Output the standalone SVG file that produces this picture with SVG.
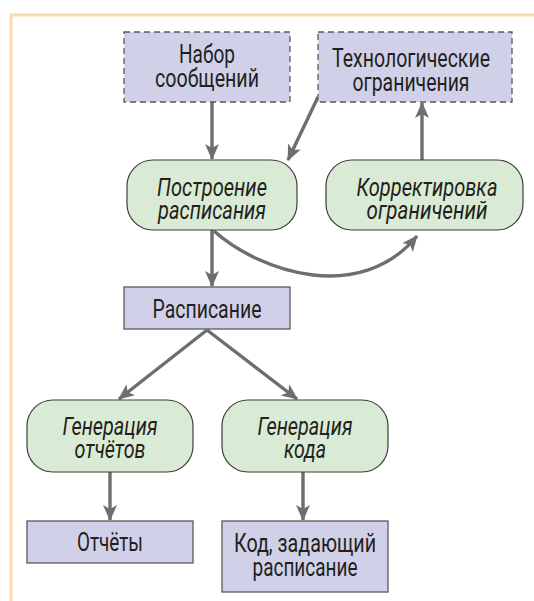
<svg xmlns="http://www.w3.org/2000/svg" width="534" height="601" viewBox="0 0 534 601">
<style>
.t{font-family:Roboto,"Liberation Sans",sans-serif;font-size:25px;fill:#231f20;text-anchor:middle}
.i{font-style:italic}
.box{fill:#d0d1e9;stroke:#58595b;stroke-width:1.3}
.dash{stroke-dasharray:6,4}
.proc{fill:#d9ebd4;stroke:#3d3d3d;stroke-width:1.2}
.c{fill:none;stroke:#6d6e71;stroke-width:3.4;marker-end:url(#ah)}
</style>
<defs>
<marker id="ah" markerUnits="userSpaceOnUse" markerWidth="16" markerHeight="14" viewBox="0 0 16 14" refX="15" refY="7" orient="auto">
<path d="M0,0 L16,7 L0,14 L4,7 Z" fill="#6d6e71"/>
</marker>
</defs>
<rect width="534" height="601" fill="#ffffff"/>
<g id="frame" fill="none" stroke="#fcd9b1" stroke-width="3">
<path d="M11,601 L11,15 L534,15"/>
</g>
<g id="connectors">
<path class="c" d="M212,102 L212,159"/>
<path class="c" d="M318,97 L288,160"/>
<path class="c" d="M422,160 L422,103"/>
<path class="c" d="M212,230 L212,286"/>
<path class="c" d="M214,231 C260,272 360,305 417,236"/>
<path class="c" d="M207,330 L119,399"/>
<path class="c" d="M207,330 L297,399"/>
<path class="c" d="M110,472 L110,520"/>
<path class="c" d="M303,472 L303,520"/>
</g>
<g id="n-nabor">
<rect class="box dash" x="124" y="32" width="166" height="70"/>
<text class="t" x="207" y="63" textLength="56" lengthAdjust="spacingAndGlyphs">Набор</text>
<text class="t" x="207" y="87" textLength="104" lengthAdjust="spacingAndGlyphs">сообщений</text>
</g>
<g id="n-tech">
<rect class="box dash" x="318" y="32" width="194" height="70"/>
<text class="t" x="411" y="67" textLength="158" lengthAdjust="spacingAndGlyphs">Технологические</text>
<text class="t" x="411" y="91" textLength="117" lengthAdjust="spacingAndGlyphs">ограничения</text>
</g>
<g id="n-build">
<rect class="proc" x="127" y="160" width="170" height="70" rx="26"/>
<text class="t i" x="212" y="196" textLength="110" lengthAdjust="spacingAndGlyphs">Построение</text>
<text class="t i" x="212" y="219" textLength="108" lengthAdjust="spacingAndGlyphs">расписания</text>
</g>
<g id="n-correct">
<rect class="proc" x="326" y="160" width="197" height="70" rx="26"/>
<text class="t i" x="427" y="196" textLength="141" lengthAdjust="spacingAndGlyphs">Корректировка</text>
<text class="t i" x="427" y="219" textLength="121" lengthAdjust="spacingAndGlyphs">ограничений</text>
</g>
<g id="n-sched">
<rect class="box" x="124" y="287" width="166" height="42"/>
<text class="t" x="207" y="318" textLength="109" lengthAdjust="spacingAndGlyphs">Расписание</text>
</g>
<g id="n-genrep">
<rect class="proc" x="27" y="400" width="166" height="72" rx="26"/>
<text class="t i" x="110" y="435" textLength="95" lengthAdjust="spacingAndGlyphs">Генерация</text>
<text class="t i" x="110" y="458" textLength="71" lengthAdjust="spacingAndGlyphs">отчётов</text>
</g>
<g id="n-gencode">
<rect class="proc" x="222" y="400" width="166" height="72" rx="26"/>
<text class="t i" x="305" y="435" textLength="95" lengthAdjust="spacingAndGlyphs">Генерация</text>
<text class="t i" x="305" y="458" textLength="42" lengthAdjust="spacingAndGlyphs">кода</text>
</g>
<g id="n-reports">
<rect class="box" x="27" y="521" width="166" height="42"/>
<text class="t" x="110" y="551" textLength="66" lengthAdjust="spacingAndGlyphs">Отчёты</text>
</g>
<g id="n-code">
<rect class="box" x="222" y="521" width="166" height="71"/>
<text class="t" x="305" y="552" textLength="142" lengthAdjust="spacingAndGlyphs">Код, задающий</text>
<text class="t" x="305" y="576" textLength="105" lengthAdjust="spacingAndGlyphs">расписание</text>
</g>
</svg>
